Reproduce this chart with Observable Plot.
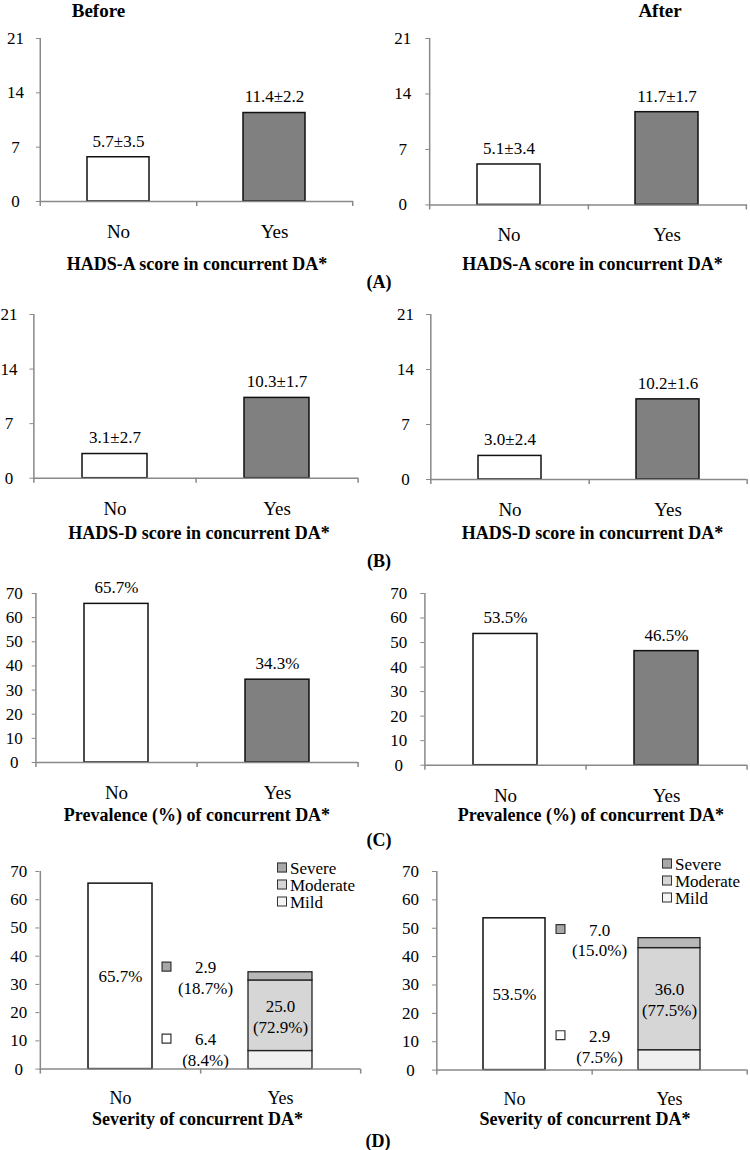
<!DOCTYPE html>
<html>
<head>
<meta charset="utf-8">
<script src="https://cdn.jsdelivr.net/npm/d3@7"></script>
<script src="https://cdn.jsdelivr.net/npm/@observablehq/plot@0.6"></script>
<style>
  body { margin: 0; background: #fff; }
  #fig { position: relative; width: 750px; height: 1150px; overflow: hidden;
         font-family: "Liberation Serif", "Times New Roman", serif; color: #000; }
  .t { position: absolute; transform: translate(-50%, -50%); line-height: 1; white-space: nowrap; }
  .bold { font-weight: bold; font-size: 18px; }
  .head { font-weight: bold; font-size: 19px; }
  .panel { position: absolute; }
  .leg { position: absolute; font-size: 17px; line-height: 1; white-space: nowrap; transform: translateY(-50%); }
  .sw { display: inline-block; width: 8px; height: 8px; border: 1px solid #333; margin-right: 3px; vertical-align: 1px; }
</style>
</head>
<body>
<div id="fig"></div>
<script>
// ---- data ----
const groups = ["No", "Yes"];

const hadsA_before = [5.7, 11.4];
const hadsA_before_sd = [3.5, 2.2];
const hadsA_after = [5.1, 11.7];
const hadsA_after_sd = [3.4, 1.7];

const hadsD_before = [3.1, 10.3];
const hadsD_before_sd = [2.7, 1.7];
const hadsD_after = [3.0, 10.2];
const hadsD_after_sd = [2.4, 1.6];

const prevalence_before = [65.7, 34.3];
const prevalence_after = [53.5, 46.5];

const severityLevels = ["Mild", "Moderate", "Severe"];
const severity_before = [6.4, 25.0, 2.9];
const severityPct_before = [18.7, 72.9, 8.4];
const severity_after = [7.0, 36.0, 3.5];
const severityPct_after = [15.0, 77.5, 7.5];

// side notes printed next to the small markers
const calloutLevels = ["Severe", "Mild"];
const callouts_before = ["2.9\n(18.7%)", "6.4\n(8.4%)"];
const callouts_after = ["7.0\n(15.0%)", "2.9\n(7.5%)"];

const scoreTicks = [0, 7, 14, 21];
const percentTicks = [0, 10, 20, 30, 40, 50, 60, 70];

// ---- styling ----
const AXIS = "#898989";
const groupFill = {No: "#ffffff", Yes: "#808080"};
const levelFill = {Mild: "#f0f0f0", Moderate: "#d6d6d6", Severe: "#b8b8b8"};
const markerFill = {Severe: "#a8a8a8", Mild: "#ffffff"};

const fig = document.getElementById("fig");

function addText(txt, x, y, cls) {
  const d = document.createElement("div");
  d.className = "t " + (cls || "");
  d.textContent = txt;
  d.style.left = x + "px";
  d.style.top = y + "px";
  fig.appendChild(d);
}

function place(svg, left, top) {
  const w = document.createElement("div");
  w.className = "panel";
  w.style.left = left + "px";
  w.style.top = top + "px";
  w.appendChild(svg);
  fig.appendChild(w);
}

// axis lines, band-edge ticks and tick labels shared by all panels
function axisMarks(g) {
  const step = (g.x1 - g.x0) / 2;
  return [
    Plot.ruleY([0], {stroke: AXIS, strokeWidth: 1.5}),
    Plot.ruleX(["No"], {x: d => d, y1: g.yMax, y2: 0, dx: -step / 2, insetBottom: -5, stroke: AXIS, strokeWidth: 1.5}),
    Plot.ruleX(groups, {x: d => d, y1: 0, y2: 0, dx: step / 2, insetBottom: -5, stroke: AXIS, strokeWidth: 1.5}),
    Plot.axisY({ticks: g.ticks, tickSize: 4, tickPadding: g.labelOffset - 4, textAnchor: "middle",
                stroke: AXIS, fontSize: 17, label: null, tickFormat: d => String(d)}),
    Plot.axisX({tickSize: 0, tickPadding: g.catPad ?? 23, fontSize: g.catSize ?? 19, label: null})
  ];
}

function frameOptions(g) {
  return {
    width: 375,
    height: g.y0 - g.yTop + 70,
    marginLeft: g.x0 - g.left,
    marginRight: g.left + 375 - g.x1,
    marginTop: 20,
    marginBottom: 50,
    x: {domain: groups, paddingInner: 0.6, paddingOuter: 0.3, axis: null},
    y: {domain: [0, g.yMax], axis: null},
    style: {fontFamily: "Liberation Serif, Times New Roman, serif", fontSize: "17px",
            background: "none", overflow: "visible", color: "#000"}
  };
}

function barPanel(g, values, labels) {
  const rows = groups.map((k, i) => ({group: k, value: values[i], label: labels[i]}));
  const svg = Plot.plot({
    ...frameOptions(g),
    marks: [
      Plot.barY(rows, {x: "group", y: "value", fill: d => groupFill[d.group], stroke: "#111", strokeWidth: 1.5}),
      Plot.text(rows, {x: "group", y: "value", text: "label", dy: -16, fontSize: 17}),
      ...axisMarks(g)
    ]
  });
  place(svg, g.left, g.yTop - 20);
}

function severityPanel(g, prevalence, sev, pct, calloutText, calloutAt) {
  const noRow = [{group: "No", value: prevalence[0]}];
  const stack = severityLevels.map((s, i) => ({group: "Yes", level: s, value: sev[i], pct: pct[i]}));
  const notes = calloutLevels.map((s, i) => ({level: s, label: calloutText[i], at: calloutAt[s]}));
  const svg = Plot.plot({
    ...frameOptions(g),
    marks: [
      Plot.barY(noRow, {x: "group", y: "value", fill: "#fff", stroke: "#111", strokeWidth: 1.5}),
      Plot.text(noRow, Plot.stackY({x: "group", y: "value", text: d => d.value.toFixed(1) + "%", fontSize: 17})),
      Plot.barY(stack, {x: "group", y: "value", fill: d => levelFill[d.level], stroke: "#222", strokeWidth: 1.3}),
      Plot.text(stack, Plot.stackY({
        x: "group", y: "value", fontSize: 17, lineHeight: 1.22,
        text: d => d.level === "Moderate" ? d.value.toFixed(1) + "\n(" + d.pct.toFixed(1) + "%)" : null
      })),
      Plot.dot(notes, {x: () => "No", y: "at", dx: 46, symbol: "square", r: 5,
                       fill: d => markerFill[d.level], stroke: "#333", strokeWidth: 1.2}),
      Plot.text(notes, {x: () => "No", y: "at", dx: 85, dy: 10.4, text: "label", fontSize: 17, lineHeight: 1.22}),
      ...axisMarks(g)
    ]
  });
  place(svg, g.left, g.yTop - 20);
}

function legend(x, y) {
  ["Severe", "Moderate", "Mild"].forEach((s, i) => {
    const d = document.createElement("div");
    d.className = "leg";
    d.style.left = x + "px";
    d.style.top = (y + i * 17) + "px";
    const sw = document.createElement("span");
    sw.className = "sw";
    sw.style.background = s === "Severe" ? "#a8a8a8" : s === "Moderate" ? "#d6d6d6" : "#f4f4f4";
    d.appendChild(sw);
    d.appendChild(document.createTextNode(s));
    fig.appendChild(d);
  });
}

const pm = (m, sd) => m.map((v, i) => v.toFixed(1) + "±" + sd[i].toFixed(1));
const pc = (m) => m.map(v => v.toFixed(1) + "%");

// ---- panel geometry (page pixels) ----
const geo = {
  aL: {left: 0,   x0: 40,    x1: 353,   yTop: 38,    y0: 201,    yMax: 21, ticks: scoreTicks,   labelOffset: 25},
  aR: {left: 375, x0: 429.3, x1: 746.7, yTop: 38.3,  y0: 204.7,  yMax: 21, ticks: scoreTicks,   labelOffset: 27},
  bL: {left: 0,   x0: 33.5,  x1: 358,   yTop: 314.3, y0: 478,    yMax: 21, ticks: scoreTicks,   labelOffset: 25},
  bR: {left: 375, x0: 430,   x1: 746.7, yTop: 314.3, y0: 479.3,  yMax: 21, ticks: scoreTicks,   labelOffset: 25},
  cL: {left: 0,   x0: 35.7,  x1: 358,   yTop: 593.3, y0: 762.3,  yMax: 70, ticks: percentTicks, labelOffset: 22},
  cR: {left: 375, x0: 424.3, x1: 746.7, yTop: 593.3, y0: 765,    yMax: 70, ticks: percentTicks, labelOffset: 26},
  dL: {left: 0,   x0: 39.3,  x1: 360,   yTop: 870.7, y0: 1068.3, yMax: 70, ticks: percentTicks, labelOffset: 21, catPad: 22, catSize: 18},
  dR: {left: 375, x0: 436,   x1: 746.7, yTop: 870.7, y0: 1069.3, yMax: 70, ticks: percentTicks, labelOffset: 26, catPad: 22, catSize: 18}
};

barPanel(geo.aL, hadsA_before, pm(hadsA_before, hadsA_before_sd));
barPanel(geo.aR, hadsA_after, pm(hadsA_after, hadsA_after_sd));
barPanel(geo.bL, hadsD_before, pm(hadsD_before, hadsD_before_sd));
barPanel(geo.bR, hadsD_after, pm(hadsD_after, hadsD_after_sd));
barPanel(geo.cL, prevalence_before, pc(prevalence_before));
barPanel(geo.cR, prevalence_after, pc(prevalence_after));
severityPanel(geo.dL, prevalence_before, severity_before, severityPct_before, callouts_before, {Severe: 36.3, Mild: 10.8});
severityPanel(geo.dR, prevalence_after, severity_after, severityPct_after, callouts_after, {Severe: 49.7, Mild: 12.3});

legend(277, 868);
legend(662, 864.3);

// ---- headings and axis titles ----
addText("Before", 98.5, 10, "head");
addText("After", 660, 10, "head");

addText("HADS-A score in concurrent DA*", 197, 263.5, "bold");
addText("HADS-A score in concurrent DA*", 592.5, 263.5, "bold");
addText("(A)", 379, 282, "bold");

addText("HADS-D score in concurrent DA*", 199, 533, "bold");
addText("HADS-D score in concurrent DA*", 592.5, 533, "bold");
addText("(B)", 379, 561, "bold");

addText("Prevalence (%) of concurrent DA*", 197, 815, "bold");
addText("Prevalence (%) of concurrent DA*", 591, 815, "bold");
addText("(C)", 379, 840, "bold");

addText("Severity of concurrent DA*", 197.5, 1119, "bold");
addText("Severity of concurrent DA*", 585, 1119, "bold");
addText("(D)", 378, 1141, "bold");
</script>
</body>
</html>
